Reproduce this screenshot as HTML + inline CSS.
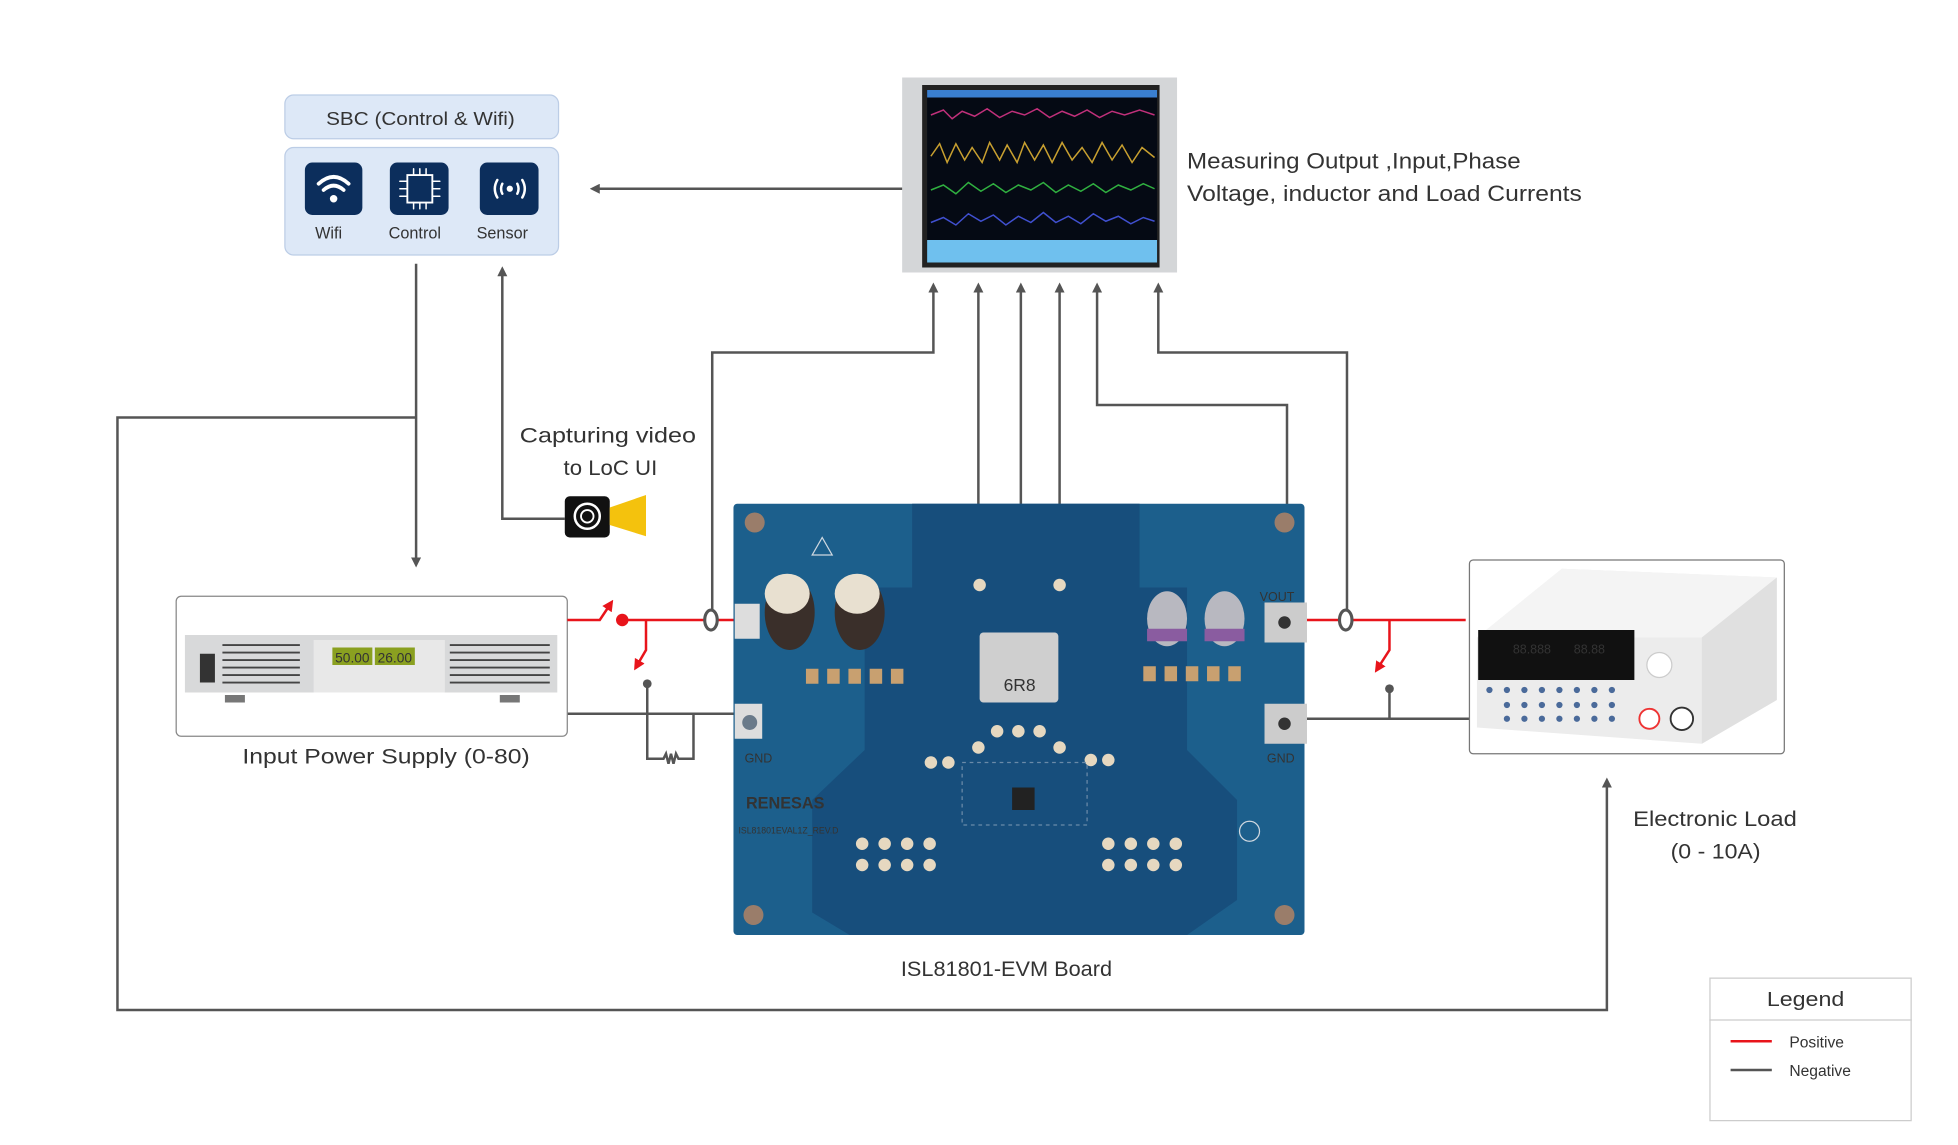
<!DOCTYPE html>
<html><head><meta charset="utf-8"><style>
html,body{margin:0;padding:0;background:#fff;}
svg{display:block;}
text{font-family:"Liberation Sans",sans-serif;fill:#333;}
</style></head><body>
<svg width="1958" height="1145" viewBox="0 0 1567 916" preserveAspectRatio="none" xmlns="http://www.w3.org/2000/svg">
<defs>
<marker id="ag" markerWidth="8" markerHeight="8" refX="4" refY="4" orient="auto" markerUnits="userSpaceOnUse"><path d="M0,0 L8,4 L0,8 z" fill="#555"/></marker>
<marker id="ar" markerWidth="9" markerHeight="9" refX="4" refY="4.5" orient="auto" markerUnits="userSpaceOnUse"><path d="M0,0 L9,4.5 L0,9 z" fill="#e8141b"/></marker>
</defs>
<rect width="1567" height="916" fill="#fff"/>

<!-- SBC -->
<rect x="228" y="76" width="219" height="35" rx="7" fill="#dde8f7" stroke="#bccde6"/>
<text x="261" y="100" font-size="15" textLength="151" lengthAdjust="spacingAndGlyphs">SBC (Control &amp; Wifi)</text>
<rect x="228" y="118" width="219" height="86" rx="7" fill="#dde8f7" stroke="#bccde6"/>
<rect x="244" y="130" width="46" height="42" rx="6" fill="#0c2e5c"/>
<rect x="312" y="130" width="47" height="42" rx="6" fill="#0c2e5c"/>
<rect x="384" y="130" width="47" height="42" rx="6" fill="#0c2e5c"/>
<g fill="none" stroke="#fff" stroke-width="3" stroke-linecap="round">
<path d="M255,147 Q267,136 279,147"/><path d="M259,152 Q267,145 275,152"/>
<path d="M326,140 h20 v22 h-20z" stroke-width="1.5"/><path d="M320,145h6M320,151h6M320,157h6M346,145h6M346,151h6M346,157h6M331,135v5M336,135v5M341,135v5M331,162v5M336,162v5M341,162v5" stroke-width="1.2"/>
<path d="M398,144 q-4,7 0,14M418,144 q4,7 0,14" stroke-width="2"/><path d="M402,147 q-2,4 0,8M414,147 q2,4 0,8" stroke-width="2"/>
</g>
<circle cx="267" cy="159" r="3" fill="#fff"/><circle cx="408" cy="151" r="2.5" fill="#fff"/>
<text x="263" y="191" font-size="13" text-anchor="middle">Wifi</text>
<text x="332" y="191" font-size="13" text-anchor="middle">Control</text>
<text x="402" y="191" font-size="13" text-anchor="middle">Sensor</text>

<!-- Monitor -->
<rect x="722" y="62" width="220" height="156" fill="#d4d6d8"/>
<rect x="738" y="68" width="190" height="146" fill="#222"/>
<rect x="742" y="72" width="184" height="120" fill="#050a14"/>
<rect x="742" y="72" width="184" height="6" fill="#3a7fd0"/>
<rect x="742" y="192" width="184" height="18" fill="#6fc0ee"/>
<polyline fill="none" stroke="#c0307a" stroke-width="1.2" points="745,92 755,88 762,95 770,89 780,93 790,87 800,94 810,89 820,92 830,87 840,94 850,89 860,93 870,88 880,94 890,89 900,92 912,88 924,92"/>
<polyline fill="none" stroke="#c8a030" stroke-width="1.2" points="745,125 752,115 758,130 765,115 772,128 778,118 786,130 792,114 800,128 806,116 814,130 820,114 828,128 835,116 842,130 850,114 858,128 866,118 874,130 882,114 890,128 898,116 906,130 914,118 924,126"/>
<polyline fill="none" stroke="#30b040" stroke-width="1.2" points="745,152 755,148 765,155 775,146 785,153 795,147 805,154 815,148 825,152 835,146 845,154 855,148 865,153 875,147 885,154 895,148 905,152 915,147 924,151"/>
<polyline fill="none" stroke="#4050d0" stroke-width="1.2" points="745,178 755,174 765,180 775,171 785,177 795,172 805,180 815,173 825,178 835,170 845,178 855,173 865,179 875,171 885,177 895,173 905,179 915,174 924,177"/>
<text x="950" y="135" font-size="17.5" textLength="267" lengthAdjust="spacingAndGlyphs">Measuring Output ,Input,Phase</text>
<text x="950" y="161" font-size="17.5" textLength="316" lengthAdjust="spacingAndGlyphs">Voltage, inductor and Load Currents</text>

<!-- gray connectors -->
<g fill="none" stroke="#555" stroke-width="2">
<line x1="722" y1="151" x2="476" y2="151" marker-end="url(#ag)"/>
<polyline points="570,490 570,282 747,282 747,230" marker-end="url(#ag)"/>
<line x1="783" y1="468" x2="783" y2="230" marker-end="url(#ag)"/>
<line x1="817" y1="522" x2="817" y2="230" marker-end="url(#ag)"/>
<line x1="848" y1="468" x2="848" y2="230" marker-end="url(#ag)"/>
<polyline points="1030,490 1030,324 878,324 878,230" marker-end="url(#ag)"/>
<polyline points="1078,490 1078,282 927,282 927,230" marker-end="url(#ag)"/>
<line x1="333" y1="211" x2="333" y2="450" marker-end="url(#ag)"/>
<polyline points="333,334 94,334 94,808 1286,808 1286,626" marker-end="url(#ag)"/>
<polyline points="452,415 402,415 402,217" marker-end="url(#ag)"/>
<line x1="454" y1="571" x2="588" y2="571"/>
<polyline points="518,547 518,607 531,607 533,603 535,611 537,603 539,611 541,603 543,607 555,607 555,571"/>
<line x1="1044" y1="575" x2="1176" y2="575"/>
<line x1="1112" y1="551" x2="1112" y2="575"/>
</g>
<circle cx="518" cy="547" r="3.5" fill="#555"/>
<circle cx="1112" cy="551" r="3.5" fill="#555"/>

<!-- Camera -->
<text x="416" y="354" font-size="17" textLength="141" lengthAdjust="spacingAndGlyphs">Capturing video</text>
<text x="451" y="380" font-size="17" textLength="75" lengthAdjust="spacingAndGlyphs">to LoC UI</text>
<rect x="452" y="397" width="36" height="33" rx="4" fill="#111"/>
<circle cx="470" cy="413" r="10" fill="none" stroke="#fff" stroke-width="2"/><circle cx="470" cy="413" r="5" fill="none" stroke="#fff" stroke-width="1.5"/>
<polygon points="488,406 517,396 517,429 488,420" fill="#f4c20d"/>

<!-- Power supply -->
<rect x="141" y="477" width="313" height="112" rx="4" fill="#fff" stroke="#888"/>
<rect x="148" y="508" width="298" height="46" fill="#d8d9da"/>
<rect x="160" y="523" width="12" height="23" fill="#333"/>
<g stroke="#444" stroke-width="1.5"><line x1="178" y1="516" x2="240" y2="516"/><line x1="178" y1="522" x2="240" y2="522"/><line x1="178" y1="528" x2="240" y2="528"/><line x1="178" y1="534" x2="240" y2="534"/><line x1="178" y1="540" x2="240" y2="540"/><line x1="178" y1="546" x2="240" y2="546"/>
<line x1="360" y1="516" x2="440" y2="516"/><line x1="360" y1="522" x2="440" y2="522"/><line x1="360" y1="528" x2="440" y2="528"/><line x1="360" y1="534" x2="440" y2="534"/><line x1="360" y1="540" x2="440" y2="540"/><line x1="360" y1="546" x2="440" y2="546"/></g>
<rect x="251" y="512" width="105" height="42" fill="#e8e8e8"/>
<rect x="266" y="518" width="32" height="14" fill="#8aa020"/><rect x="300" y="518" width="32" height="14" fill="#8aa020"/>
<text x="282" y="530" font-size="11" fill="#e8f080" text-anchor="middle">50.00</text><text x="316" y="530" font-size="11" fill="#e8f080" text-anchor="middle">26.00</text>
<rect x="180" y="556" width="16" height="6" fill="#777"/><rect x="400" y="556" width="16" height="6" fill="#777"/>
<text x="194" y="611" font-size="17" textLength="230" lengthAdjust="spacingAndGlyphs">Input Power Supply (0-80)</text>

<!-- red lines -->
<g fill="none" stroke="#e8141b" stroke-width="2">
<polyline points="454,496 480,496 488,484" marker-end="url(#ar)"/>
<line x1="498" y1="496" x2="598" y2="496"/>
<polyline points="517,496 517,520 510,532" marker-end="url(#ar)"/>
<line x1="1044" y1="496" x2="1173" y2="496"/>
<polyline points="1112,496 1112,520 1103,534" marker-end="url(#ar)"/>
</g>
<circle cx="498" cy="496" r="5" fill="#e8141b"/>
<ellipse cx="569" cy="496" rx="5" ry="8" fill="#fff" stroke="#555" stroke-width="2.5"/>
<ellipse cx="1077" cy="496" rx="5" ry="8" fill="#fff" stroke="#555" stroke-width="2.5"/>

<!-- Board -->
<rect x="587" y="403" width="457" height="345" rx="3" fill="#1c5f8c"/>
<path d="M730,403 V470 H692 V600 L650,640 V730 L680,748 H950 L990,720 V640 L950,600 V470 H912 V403 Z" fill="#174e7c"/>
<g fill="#9a7d6a"><circle cx="604" cy="418" r="8"/><circle cx="1028" cy="418" r="8"/><circle cx="603" cy="732" r="8"/><circle cx="1028" cy="732" r="8"/></g>
<ellipse cx="632" cy="490" rx="20" ry="30" fill="#3a2f2a"/><ellipse cx="630" cy="475" rx="18" ry="16" fill="#e8e0d0"/>
<ellipse cx="688" cy="490" rx="20" ry="30" fill="#3a2f2a"/><ellipse cx="686" cy="475" rx="18" ry="16" fill="#e8e0d0"/>
<rect x="588" y="483" width="20" height="28" fill="#ddd"/><rect x="588" y="563" width="22" height="28" fill="#ddd"/>
<rect x="1012" y="482" width="34" height="32" fill="#ccc"/><rect x="1012" y="563" width="34" height="32" fill="#ccc"/>
<circle cx="1028" cy="498" r="5" fill="#333"/><circle cx="1028" cy="579" r="5" fill="#333"/><circle cx="600" cy="578" r="6" fill="#6a7a8a"/>
<rect x="784" y="506" width="63" height="56" rx="3" fill="#cfcfcf"/>
<text x="816" y="553" font-size="14" text-anchor="middle" fill="#444">6R8</text>
<ellipse cx="934" cy="495" rx="16" ry="22" fill="#b8b8c0"/><ellipse cx="980" cy="495" rx="16" ry="22" fill="#b8b8c0"/>
<rect x="918" y="503" width="32" height="10" fill="#8a5ca0"/><rect x="964" y="503" width="32" height="10" fill="#8a5ca0"/>
<g fill="#c8a070"><rect x="645" y="535" width="10" height="12"/><rect x="662" y="535" width="10" height="12"/><rect x="679" y="535" width="10" height="12"/><rect x="696" y="535" width="10" height="12"/><rect x="713" y="535" width="10" height="12"/>
<rect x="915" y="533" width="10" height="12"/><rect x="932" y="533" width="10" height="12"/><rect x="949" y="533" width="10" height="12"/><rect x="966" y="533" width="10" height="12"/><rect x="983" y="533" width="10" height="12"/></g>
<g fill="#e6d8c0"><circle cx="784" cy="468" r="5"/><circle cx="848" cy="468" r="5"/>
<circle cx="798" cy="585" r="5"/><circle cx="815" cy="585" r="5"/><circle cx="832" cy="585" r="5"/><circle cx="783" cy="598" r="5"/><circle cx="848" cy="598" r="5"/>
<circle cx="745" cy="610" r="5"/><circle cx="759" cy="610" r="5"/><circle cx="873" cy="608" r="5"/><circle cx="887" cy="608" r="5"/>
<circle cx="690" cy="675" r="5"/><circle cx="708" cy="675" r="5"/><circle cx="726" cy="675" r="5"/><circle cx="744" cy="675" r="5"/>
<circle cx="690" cy="692" r="5"/><circle cx="708" cy="692" r="5"/><circle cx="726" cy="692" r="5"/><circle cx="744" cy="692" r="5"/>
<circle cx="887" cy="675" r="5"/><circle cx="905" cy="675" r="5"/><circle cx="923" cy="675" r="5"/><circle cx="941" cy="675" r="5"/>
<circle cx="887" cy="692" r="5"/><circle cx="905" cy="692" r="5"/><circle cx="923" cy="692" r="5"/><circle cx="941" cy="692" r="5"/></g>
<rect x="810" y="630" width="18" height="18" fill="#222"/>
<rect x="770" y="610" width="100" height="50" fill="none" stroke="#6a8aa8" stroke-width="1" stroke-dasharray="3 3"/>
<text x="597" y="647" font-size="13" font-weight="bold" fill="#dfe6ee">RENESAS</text>
<text x="591" y="667" font-size="7" fill="#cfd8e0">ISL81801EVAL1Z_REV.D</text>
<text x="607" y="610" font-size="10" fill="#bccbd8" text-anchor="middle">GND</text>
<text x="1025" y="610" font-size="10" fill="#bccbd8" text-anchor="middle">GND</text>
<text x="1022" y="481" font-size="10" fill="#bccbd8" text-anchor="middle">VOUT</text>
<polygon points="658,430 650,444 666,444" fill="none" stroke="#cfd8e0"/>
<circle cx="1000" cy="665" r="8" fill="none" stroke="#cfd8e0"/>
<text x="721" y="781" font-size="17" textLength="169" lengthAdjust="spacingAndGlyphs">ISL81801-EVM Board</text>

<!-- Electronic load -->
<rect x="1176" y="448" width="252" height="155" rx="3" fill="#fff" stroke="#777"/>
<polygon points="1182,510 1250,455 1422,462 1422,560 1362,595 1182,582" fill="#ececec"/>
<polygon points="1182,510 1250,455 1422,462 1362,510" fill="#f4f4f4"/>
<polygon points="1362,510 1422,462 1422,560 1362,595" fill="#e0e0e0"/>
<rect x="1183" y="504" width="125" height="40" fill="#111"/>
<text x="1226" y="523" font-size="10" fill="#4ad060" text-anchor="middle">88.888</text><text x="1272" y="523" font-size="10" fill="#4ad060" text-anchor="middle">88.88</text>
<circle cx="1328" cy="532" r="10" fill="#fff" stroke="#ccc"/>
<g fill="#4a6a9a"><circle cx="1192" cy="552" r="2.5"/><circle cx="1206" cy="552" r="2.5"/><circle cx="1220" cy="552" r="2.5"/><circle cx="1234" cy="552" r="2.5"/><circle cx="1248" cy="552" r="2.5"/><circle cx="1262" cy="552" r="2.5"/><circle cx="1276" cy="552" r="2.5"/><circle cx="1290" cy="552" r="2.5"/>
<circle cx="1206" cy="564" r="2.5"/><circle cx="1220" cy="564" r="2.5"/><circle cx="1234" cy="564" r="2.5"/><circle cx="1248" cy="564" r="2.5"/><circle cx="1262" cy="564" r="2.5"/><circle cx="1276" cy="564" r="2.5"/><circle cx="1290" cy="564" r="2.5"/>
<circle cx="1206" cy="575" r="2.5"/><circle cx="1220" cy="575" r="2.5"/><circle cx="1234" cy="575" r="2.5"/><circle cx="1248" cy="575" r="2.5"/><circle cx="1262" cy="575" r="2.5"/><circle cx="1276" cy="575" r="2.5"/><circle cx="1290" cy="575" r="2.5"/></g>
<circle cx="1320" cy="575" r="8" fill="#fff" stroke="#e33" stroke-width="1.5"/><circle cx="1346" cy="575" r="9" fill="#fff" stroke="#333" stroke-width="1.5"/>
<text x="1307" y="661" font-size="17" textLength="131" lengthAdjust="spacingAndGlyphs">Electronic Load</text>
<text x="1337" y="687" font-size="17" textLength="72" lengthAdjust="spacingAndGlyphs">(0 - 10A)</text>

<!-- Legend -->
<rect x="1368.5" y="782.5" width="161" height="114" fill="#fff" stroke="#ccc"/>
<line x1="1368" y1="816" x2="1530" y2="816" stroke="#ccc"/>
<text x="1414" y="805" font-size="16" textLength="62" lengthAdjust="spacingAndGlyphs">Legend</text>
<line x1="1385" y1="833" x2="1418" y2="833" stroke="#e8141b" stroke-width="2"/>
<text x="1432" y="838" font-size="12.5" fill="#555">Positive</text>
<line x1="1385" y1="856" x2="1418" y2="856" stroke="#555" stroke-width="2"/>
<text x="1432" y="861" font-size="12.5" fill="#555">Negative</text>
</svg>
</body></html>
